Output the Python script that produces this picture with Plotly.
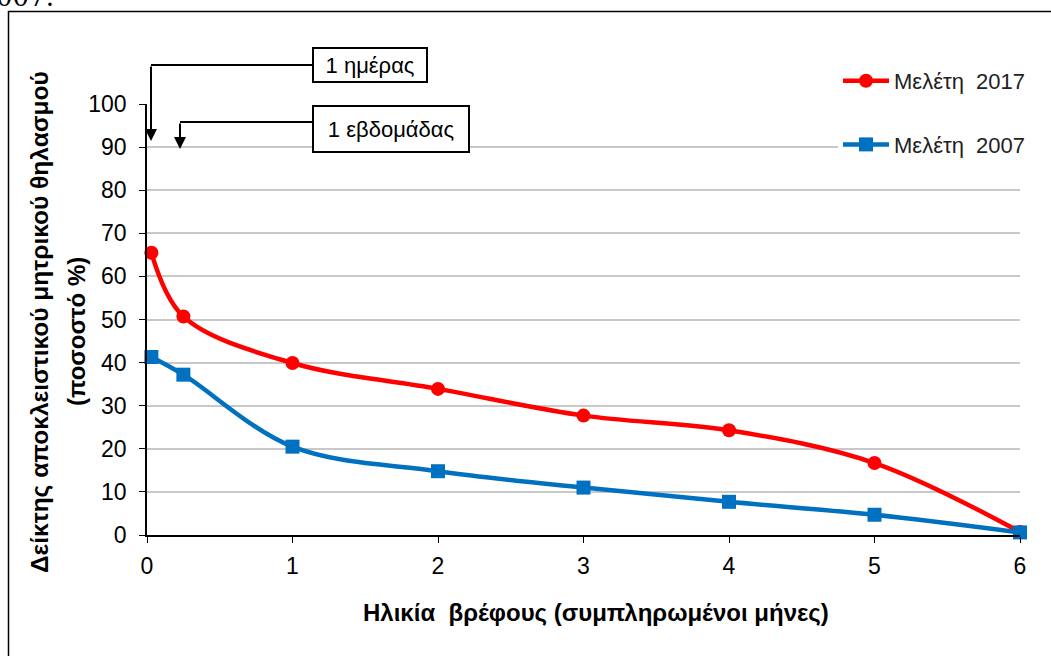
import plotly.graph_objects as go

# Data
x_vals = [0.03, 0.25, 1, 2, 3, 4, 5, 6]
study_2017 = [65.5, 50.7, 39.9, 33.9, 27.7, 24.3, 16.7, 0.7]
study_2007 = [41.3, 37.2, 20.5, 14.8, 11.0, 7.7, 4.7, 0.6]
series_names = ["Μελέτη\u00a0\u00a02017", "Μελέτη\u00a0\u00a02007"]
x_ticks = [0, 1, 2, 3, 4, 5, 6]
y_ticks = [0, 10, 20, 30, 40, 50, 60, 70, 80, 90, 100]

W, H = 1051, 656
L, R, T, B = 147, 1020, 104, 535  # plot area pixels

def px(xp):
    return (xp - L) / (R - L)

def py(yp):
    return (B - yp) / (B - T)

fig = go.Figure()
fig.add_trace(go.Scatter(
    x=x_vals, y=study_2017, name=series_names[0], mode="lines+markers",
    line=dict(color="#FF0000", width=4.5, shape="spline", smoothing=1.0),
    marker=dict(symbol="circle", size=14, color="#FF0000"),
    legendgroup="a", cliponaxis=False,
))
fig.add_trace(go.Scatter(
    x=x_vals, y=study_2007, name=series_names[1], mode="lines+markers",
    line=dict(color="#0070C0", width=4.5, shape="spline", smoothing=1.0),
    marker=dict(symbol="square", size=14, color="#0070C0"),
    legendgroup="b", cliponaxis=False,
))

font_family = "Liberation Sans, Arial, sans-serif"

fig.update_layout(
    width=W, height=H,
    margin=dict(l=L, r=W - R, t=T, b=H - B),
    paper_bgcolor="white", plot_bgcolor="white",
    font=dict(family=font_family, color="#000000", size=22),
    showlegend=True,
    legend=dict(
        x=px(838), y=py(60), xanchor="left", yanchor="top",
        bgcolor="white", borderwidth=0,
        font=dict(size=22, family=font_family, color="#222222"),
        traceorder="grouped", tracegroupgap=32,
        itemwidth=46,
    ),
    xaxis=dict(
        range=[0, 6], tickvals=x_ticks, ticktext=[str(v) for v in x_ticks],
        showgrid=False, zeroline=False,
        showline=True, linecolor="#000000", linewidth=1.5,
        ticks="outside", ticklen=6, tickcolor="#000000",
        tickfont=dict(size=23, family=font_family),
        ticklabelstandoff=4,
    ),
    yaxis=dict(
        range=[0, 100], tickvals=y_ticks, ticktext=[str(v) for v in y_ticks],
        showgrid=True, gridcolor="#C8C8C8", gridwidth=1.5,
        zeroline=False,
        showline=True, linecolor="#000000", linewidth=1.5,
        ticks="outside", ticklen=6, tickcolor="#000000",
        tickfont=dict(size=23, family=font_family),
        ticklabelstandoff=8,
    ),
)

shapes = []
# outer frame
shapes.append(dict(type="rect", xref="paper", yref="paper",
                   x0=px(8.5), x1=px(1060), y0=py(670), y1=py(11.5),
                   line=dict(color="#000000", width=1.5), fillcolor="rgba(0,0,0,0)", layer="below"))
# callout connector lines
shapes.append(dict(type="line", xref="paper", yref="paper",
                   x0=px(151), x1=px(313), y0=py(65), y1=py(65),
                   line=dict(color="#000000", width=2)))
shapes.append(dict(type="line", xref="paper", yref="paper",
                   x0=px(180), x1=px(313), y0=py(122), y1=py(122),
                   line=dict(color="#000000", width=2)))
fig.update_layout(shapes=shapes)

annotations = [
    # boxed labels
    dict(xref="paper", yref="paper", x=px(312), y=py(65.5), xanchor="left", yanchor="middle",
         text="1 ημέρας", showarrow=False, font=dict(size=22, family=font_family, color="#000000"),
         width=110, height=30, align="center",
         bordercolor="#000000", borderwidth=2, borderpad=1, bgcolor="white"),
    dict(xref="paper", yref="paper", x=px(312), y=py(129), xanchor="left", yanchor="middle",
         text="1 εβδομάδας", showarrow=False, font=dict(size=22, family=font_family, color="#000000"),
         width=152, height=42, align="center",
         bordercolor="#000000", borderwidth=2, borderpad=1, bgcolor="white"),
    # vertical arrows
    dict(xref="paper", yref="paper", axref="pixel", ayref="pixel",
         x=px(151), y=py(141), ax=0, ay=-76, text="", showarrow=True,
         arrowhead=2, arrowsize=1.2, arrowwidth=2, arrowcolor="#000000"),
    dict(xref="paper", yref="paper", axref="pixel", ayref="pixel",
         x=px(180), y=py(149), ax=0, ay=-27, text="", showarrow=True,
         arrowhead=2, arrowsize=1.2, arrowwidth=2, arrowcolor="#000000"),
    # axis titles
    dict(xref="paper", yref="paper", x=px(596), y=py(612), xanchor="center", yanchor="middle",
         text="<b>Ηλικία  βρέφους (συμπληρωμένοι μήνες)</b>", showarrow=False,
         font=dict(size=24, family=font_family, color="#000000")),
    dict(xref="paper", yref="paper", x=px(39), y=py(322), xanchor="center", yanchor="middle",
         text="<b>Δείκτης αποκλειστικού μητρικού θηλασμού</b>", showarrow=False, textangle=-90,
         font=dict(size=24.5, family=font_family, color="#000000")),
    dict(xref="paper", yref="paper", x=px(76), y=py(332), xanchor="center", yanchor="middle",
         text="<b>(ποσοστό %)</b>", showarrow=False, textangle=-90,
         font=dict(size=24, family=font_family, color="#000000")),
    # clipped text at top
    dict(xref="paper", yref="paper", x=px(-6), y=py(14), xanchor="left", yanchor="bottom",
         text="007.", showarrow=False, font=dict(size=26, family="DejaVu Serif, serif", color="#000000")),
]
fig.update_layout(annotations=annotations)

fig.write_html("out.html")
